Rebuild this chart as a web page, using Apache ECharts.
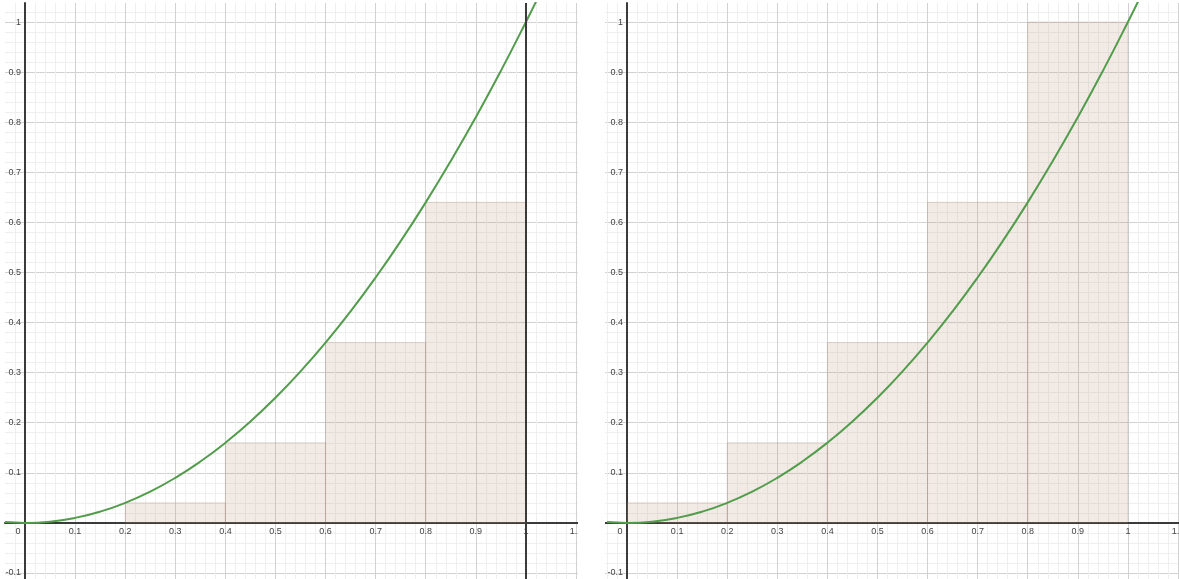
<!DOCTYPE html>
<html>
<head>
<meta charset="utf-8">
<title>Riemann sums for y = x²</title>
<script src="https://cdn.jsdelivr.net/npm/echarts@6/dist/echarts.min.js"></script>
<style>
  html, body { margin: 0; padding: 0; background: #ffffff; }
  #chart { width: 1179px; height: 579px; }
</style>
</head>
<body>
<div id="chart"></div>
<script>
// Subinterval edges on [0, 1] (five strips of width 0.2)
const stripEdges = [0, 0.2, 0.4, 0.6, 0.8, 1.0];
// Strip heights: left-endpoint sum (left panel), right-endpoint sum (right panel)
const leftSumHeights = [0, 0.04, 0.16, 0.36, 0.64];
const rightSumHeights = [0.04, 0.16, 0.36, 0.64, 1];

// Sampled points of the curve y = x²
const curveX = [-0.04, 0, 0.05, 0.1, 0.15, 0.2, 0.25, 0.3, 0.35, 0.4, 0.45, 0.5,
                0.55, 0.6, 0.65, 0.7, 0.75, 0.8, 0.85, 0.9, 0.95, 1.0, 1.03];
const curveY = [0.0016, 0, 0.0025, 0.01, 0.0225, 0.04, 0.0625, 0.09, 0.1225, 0.16, 0.2025, 0.25,
                0.3025, 0.36, 0.4225, 0.49, 0.5625, 0.64, 0.7225, 0.81, 0.9025, 1.0, 1.0609];

// Upper bound of integration, marked in the left panel
const upperBound = [1];

// Tick labels
const xTickLabels = ['0', '0.1', '0.2', '0.3', '0.4', '0.5', '0.6', '0.7', '0.8', '0.9', '1', '1.1'];
const yTickLabels = ['-0.1', '0.1', '0.2', '0.3', '0.4', '0.5', '0.6', '0.7', '0.8', '0.9', '1'];

function pickLabel(list, v) {
  for (const s of list) {
    if (Math.abs(Number(s) - v) < 1e-6) return s;
  }
  return '';
}

const stripsLeft = leftSumHeights.map((h, i) => [stripEdges[i], stripEdges[i + 1], h]);
const stripsRight = rightSumHeights.map((h, i) => [stripEdges[i], stripEdges[i + 1], h]);
const curvePoints = curveX.map((x, i) => [x, curveY[i]]);

const labelColor = '#444';
const axisLineColor = '#3a3a3a';

// Panel geometry: both panels share one scale (px per unit)
const PX_PER_UNIT = 500.9;
const Y_MIN = -0.112, Y_MAX = 1.038;
const panels = [
  { left: 5, width: 573, xMin: -0.04, xMax: 1.104 },
  { left: 605, width: 574, xMin: -0.044, xMax: 1.102 }
];

function makeXAxis(gridIndex, p) {
  return {
    type: 'value', gridIndex, min: p.xMin, max: p.xMax, position: 'bottom',
    // move the axis (line + labels) up to y = 0
    offset: Y_MIN * PX_PER_UNIT,
    minInterval: 0.1, maxInterval: 0.1,
    axisLine: { show: true, onZero: false, lineStyle: { color: axisLineColor, width: 2 } },
    axisTick: { show: false },
    axisLabel: {
      fontSize: 9, color: labelColor, fontFamily: 'Liberation Sans', margin: 4,
      formatter: v => {
        const s = pickLabel(xTickLabels, v);
        return s === '0' ? '{o|0}' : s;
      },
      rich: { o: { fontSize: 9, color: labelColor, fontFamily: 'Liberation Sans', padding: [0, 14, 0, 0] } }
    },
    splitLine: { show: true, showMinLine: false, showMaxLine: false, lineStyle: { color: '#d2d2d2', width: 1 } },
    minorTick: { show: false, splitNumber: 5 },
    minorSplitLine: { show: true, lineStyle: { color: '#efefef', width: 1 } }
  };
}

function makeYAxis(gridIndex, p) {
  return {
    type: 'value', gridIndex, min: Y_MIN, max: Y_MAX, position: 'left',
    // move the axis (line + labels) right to x = 0
    offset: p.xMin * PX_PER_UNIT,
    minInterval: 0.1, maxInterval: 0.1,
    axisLine: { show: true, onZero: false, lineStyle: { color: axisLineColor, width: 2 } },
    axisTick: { show: false },
    axisLabel: {
      fontSize: 9, color: labelColor, fontFamily: 'Liberation Sans', margin: 4,
      formatter: v => pickLabel(yTickLabels, v)
    },
    splitLine: { show: true, showMinLine: false, showMaxLine: false, lineStyle: { color: '#d2d2d2', width: 1 } },
    minorTick: { show: false, splitNumber: 5 },
    minorSplitLine: { show: true, lineStyle: { color: '#efefef', width: 1 } }
  };
}

function renderStrip(params, api) {
  const x0 = api.value(0), x1 = api.value(1), h = api.value(2);
  if (!(h > 0)) return;
  const p0 = api.coord([x0, h]);
  const p1 = api.coord([x1, 0]);
  return {
    type: 'rect',
    shape: { x: p0[0], y: p0[1], width: p1[0] - p0[0], height: p1[1] - p0[1] },
    style: { fill: 'rgba(188,144,116,0.19)', stroke: 'rgba(150,110,90,0.2)', lineWidth: 1 }
  };
}

function stripSeries(idx, data, extra) {
  return Object.assign({
    type: 'custom', xAxisIndex: idx, yAxisIndex: idx,
    data, encode: { x: [0, 1], y: 2 },
    renderItem: renderStrip, z: 2, silent: true
  }, extra || {});
}

function curveSeries(idx) {
  return {
    type: 'line', xAxisIndex: idx, yAxisIndex: idx,
    data: curvePoints, smooth: true, showSymbol: false, clip: true,
    lineStyle: { color: '#529c4c', width: 2 }, z: 4, silent: true
  };
}

const chart = echarts.init(document.getElementById('chart'), null, { renderer: 'canvas' });
chart.setOption({
  animation: false,
  backgroundColor: '#ffffff',
  grid: panels.map(p => ({
    left: p.left, top: 3, width: p.width, height: 576,
    containLabel: false, outerBoundsMode: 'none'
  })),
  xAxis: panels.map((p, i) => makeXAxis(i, p)),
  yAxis: panels.map((p, i) => makeYAxis(i, p)),
  series: [
    stripSeries(0, stripsLeft, {
      markLine: {
        silent: true, symbol: 'none', label: { show: false },
        lineStyle: { color: axisLineColor, width: 2, type: 'solid' },
        data: upperBound.map(v => ({ xAxis: v }))
      }
    }),
    curveSeries(0),
    stripSeries(1, stripsRight),
    curveSeries(1)
  ],
  graphic: [
    { type: 'rect', left: 578, top: 0, shape: { width: 27, height: 579 }, style: { fill: '#ffffff' }, z: 100 }
  ]
});
</script>
</body>
</html>
